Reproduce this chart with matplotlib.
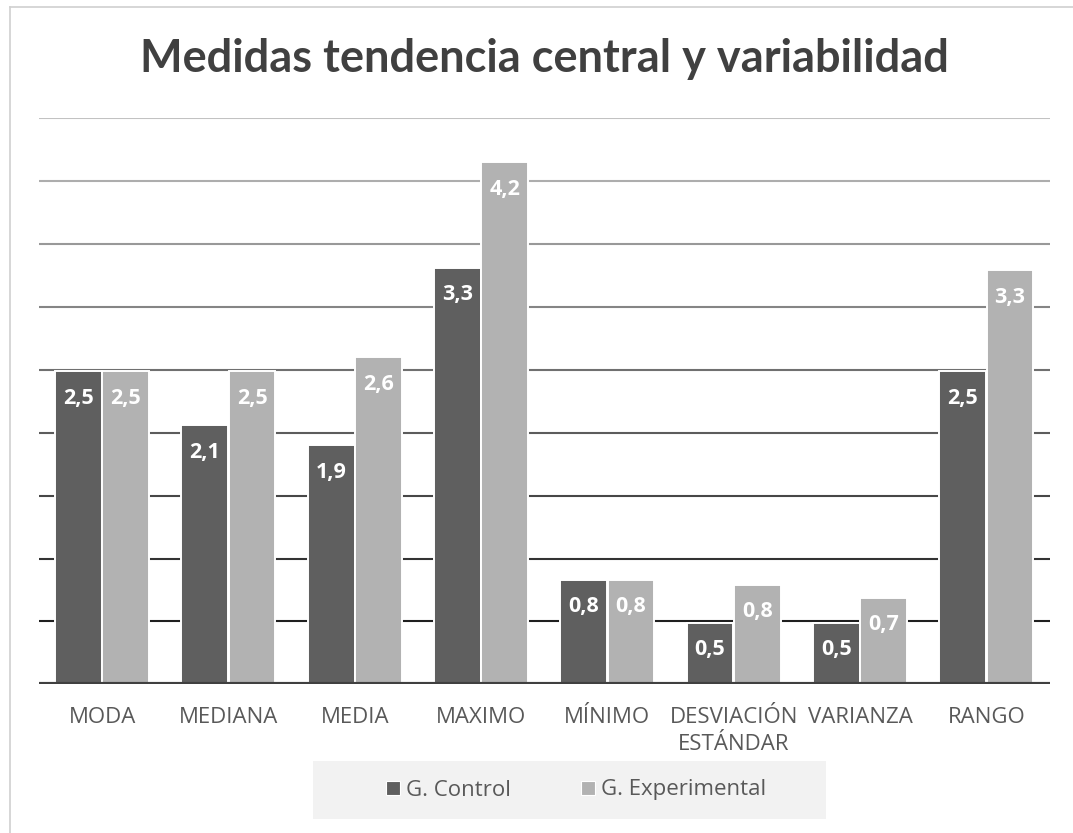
import numpy as np
import matplotlib.pyplot as plt
from matplotlib.patches import Rectangle
from matplotlib.lines import Line2D

categorias = ['MODA', 'MEDIANA', 'MEDIA', 'MAXIMO', 'MÍNIMO',
              'DESVIACIÓN\nESTÁNDAR', 'VARIANZA', 'RANGO']
control = [2.49, 2.06, 1.90, 3.31, 0.83, 0.49, 0.49, 2.49]
experimental = [2.49, 2.49, 2.60, 4.15, 0.83, 0.79, 0.69, 3.29]
series = ['G. Control', 'G. Experimental']
colores = ['#5f5f5f', '#b2b2b2']

fig = plt.figure(figsize=(10.73, 8.33), dpi=100)
W, H = 1073, 833
ax = fig.add_axes([39 / W, 1 - 684.3 / H, (1049.5 - 39) / W, (684.3 - 118.3) / H])

x = np.arange(len(categorias))
ancho = 0.37
off = 0.187
for vals, dx, col in [(control, -off, colores[0]), (experimental, off, colores[1])]:
    bars = ax.bar(x + dx, vals, ancho, color=col, edgecolor='white', linewidth=1.4, zorder=3)
    for b, v in zip(bars, vals):
        ax.annotate(f"{v:.1f}".replace('.', ','), (b.get_x() + b.get_width() / 2, v),
                    xytext=(0, -27), textcoords='offset pixels', ha='center', va='center',
                    color='white', fontsize=15.5, fontweight='bold', family='Open Sans', zorder=4)

# gridlines fading from dark (bottom) to light (top)
niveles = np.arange(0.5, 4.51, 0.5)
for i, yv in enumerate(niveles):
    g = 0.12 + (0.76 - 0.12) * i / (len(niveles) - 1)
    ax.axhline(yv, color=(g, g, g), linewidth=1.5, zorder=1)
ax.axhline(0, color='#404040', linewidth=3, zorder=5)

ax.set_xlim(-0.5, 7.5)
ax.set_ylim(0, 4.5)
ax.set_yticks([])
for s in ax.spines.values():
    s.set_visible(False)
ax.set_xticks(x, categorias)
ax.tick_params(axis='x', length=0, pad=16, labelsize=16, labelcolor='#595959')
for t in ax.get_xticklabels():
    t.set_family('Open Sans')
    t.set_linespacing(1.4)

fig.text(544 / W, 1 - 72 / H, 'Medidas tendencia central y variabilidad',
         ha='center', va='baseline', fontsize=32.5, fontweight='bold',
         family='Lato', color='#404040')

# legend box
fig.add_artist(Rectangle((313 / W, 1 - 819 / H), (826 - 313) / W, 58 / H,
                         transform=fig.transFigure, facecolor='#f2f2f2',
                         edgecolor='none', zorder=0))
handles = [Line2D([], [], marker='s', linestyle='none', markersize=10,
                  markerfacecolor=c, markeredgecolor='white', markeredgewidth=0.8)
           for c in colores]
leg = fig.legend(handles, series, loc='center', bbox_to_anchor=(574 / W, 1 - 790 / H),
                 ncol=2, frameon=False, handletextpad=0.05, columnspacing=3.0,
                 handlelength=1.0, prop={'family': 'Open Sans', 'size': 16})
for t in leg.get_texts():
    t.set_color('#595959')

# chart border (left and top visible)
fig.add_artist(Line2D([10 / W, 10 / W], [0, 1 - 7 / H], transform=fig.transFigure,
                      color='#d0d0d0', linewidth=1.2))
fig.add_artist(Line2D([10 / W, 1], [1 - 7 / H, 1 - 7 / H], transform=fig.transFigure,
                      color='#d0d0d0', linewidth=1.2))

fig.savefig('out.png', dpi=100, facecolor='white')
